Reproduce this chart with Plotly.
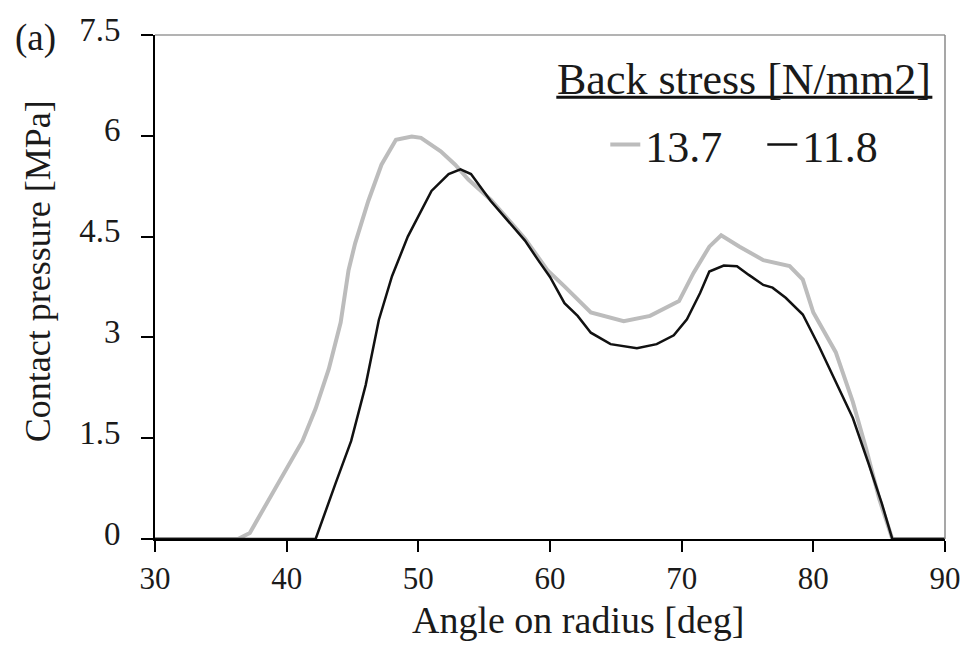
import plotly.graph_objects as go

# Angle on radius [deg] and contact pressure [MPa]
angle_137 = [30, 36.3, 37.2, 37.9, 39.7, 41.2, 42.2, 43.2, 44.1, 44.7, 45.2, 46.2, 47.2, 48.3,
             49.5, 50.2, 51.7, 52.8, 53.8, 55.5, 57.3, 58.1, 59.8, 61.1, 63.1, 65.6, 67.6,
             69.8, 70.9, 72.1, 73.0, 74.4, 76.2, 78.2, 79.2, 80.0, 81.7, 83.0, 84.0, 85.0,
             86.0, 90]
press_137 = [0, 0, 0.09, 0.33, 0.97, 1.46, 1.94, 2.53, 3.22, 4.0, 4.4, 5.03, 5.57, 5.94,
             5.99, 5.97, 5.77, 5.57, 5.35, 5.05, 4.65, 4.47, 4.0, 3.76, 3.37, 3.24, 3.32,
             3.54, 3.96, 4.35, 4.52, 4.35, 4.15, 4.06, 3.86, 3.37, 2.78, 2.04, 1.35, 0.6,
             0, 0]

angle_118 = [30, 42.2, 43.7, 44.9, 46.0, 47.0, 48.0, 49.2, 51.0, 52.3, 53.2, 54.0, 55.5,
             57.3, 58.1, 59.1, 60.0, 61.1, 62.1, 63.1, 64.6, 66.6, 68.1, 69.4, 70.4, 71.4,
             72.1, 73.2, 74.2, 75.1, 76.2, 76.9, 77.9, 79.2, 80.4, 81.7, 83.0, 84.2, 85.2,
             86.0, 90]
press_118 = [0, 0, 0.82, 1.46, 2.29, 3.26, 3.91, 4.5, 5.18, 5.43, 5.5, 5.43, 5.03,
             4.62, 4.44, 4.15, 3.9, 3.51, 3.32, 3.07, 2.9, 2.84, 2.9, 3.03, 3.27, 3.66,
             3.98, 4.07, 4.06, 3.93, 3.78, 3.74, 3.59, 3.34, 2.88, 2.34, 1.8, 1.12, 0.53,
             0, 0]

x_ticks = [30, 40, 50, 60, 70, 80, 90]
y_ticks = [0, 1.5, 3, 4.5, 6, 7.5]
y_ticktext = ["0", "1.5", "3", "4.5", "6", "7.5"]

FONT = "Liberation Serif"
TXT = "#1a1a1a"

fig = go.Figure()
fig.add_trace(go.Scatter(x=angle_137, y=press_137, mode="lines", name="13.7",
                         line=dict(color="#bcbcbc", width=4)))
fig.add_trace(go.Scatter(x=angle_118, y=press_118, mode="lines", name="11.8",
                         line=dict(color="#111111", width=2.5)))

fig.update_layout(
    width=973, height=655,
    margin=dict(l=155, r=23, t=29, b=116),
    paper_bgcolor="white", plot_bgcolor="white",
    font=dict(family=FONT, color=TXT),
    showlegend=True,
    legend=dict(
        orientation="h", x=0.57, xanchor="left", y=0.782, yanchor="middle",
        font=dict(family=FONT, size=44, color=TXT),
        bgcolor="rgba(0,0,0,0)", itemwidth=30,
        entrywidth=112, entrywidthmode="pixels",
    ),
    xaxis=dict(
        range=[30, 90], tickvals=x_ticks, ticks="outside", ticklen=11, tickwidth=2,
        tickcolor="black", showline=True, linecolor="black", linewidth=2,
        showgrid=False, zeroline=False, tickfont=dict(family=FONT, size=31, color=TXT),
    ),
    yaxis=dict(
        range=[0, 7.5], tickvals=y_ticks, ticktext=y_ticktext, ticks="outside", ticklen=12,
        tickwidth=2, tickcolor="black", showline=True, linecolor="black", linewidth=2,
        showgrid=False, zeroline=False, tickfont=dict(family=FONT, size=33, color=TXT),
        ticklabelstandoff=14, ticklabelshift=-6,
    ),
    shapes=[
        dict(type="line", xref="paper", yref="paper", x0=0, x1=1, y0=1, y1=1,
             line=dict(color="#9a9a9a", width=1.5)),
        dict(type="line", xref="paper", yref="paper", x0=1, x1=1, y0=0, y1=1,
             line=dict(color="#8a8a8a", width=1.5)),
        # underline of the legend heading
        dict(type="line", xref="paper", yref="paper", x0=0.508, x1=0.984, y0=0.8765, y1=0.8765,
             line=dict(color="#111111", width=3)),
    ],
    annotations=[
        dict(text="(a)", xref="paper", yref="paper", x=-0.180, y=0.995, xanchor="left",
             yanchor="middle", showarrow=False, font=dict(family=FONT, size=37, color=TXT)),
        dict(text="Back stress [N/mm2]", xref="paper", yref="paper", x=0.746, y=0.912,
             xanchor="center", yanchor="middle", showarrow=False,
             font=dict(family=FONT, size=44, color=TXT)),
        dict(text="Angle on radius [deg]", xref="paper", yref="paper", x=0.535, y=-0.160,
             xanchor="center", yanchor="middle", showarrow=False,
             font=dict(family=FONT, size=38, color=TXT)),
        dict(text="Contact pressure [MPa]", xref="paper", yref="paper", x=-0.147, y=0.531,
             xanchor="center", yanchor="middle", textangle=-90, showarrow=False,
             font=dict(family=FONT, size=36, color=TXT)),
    ],
)

fig.write_html("out.html")
